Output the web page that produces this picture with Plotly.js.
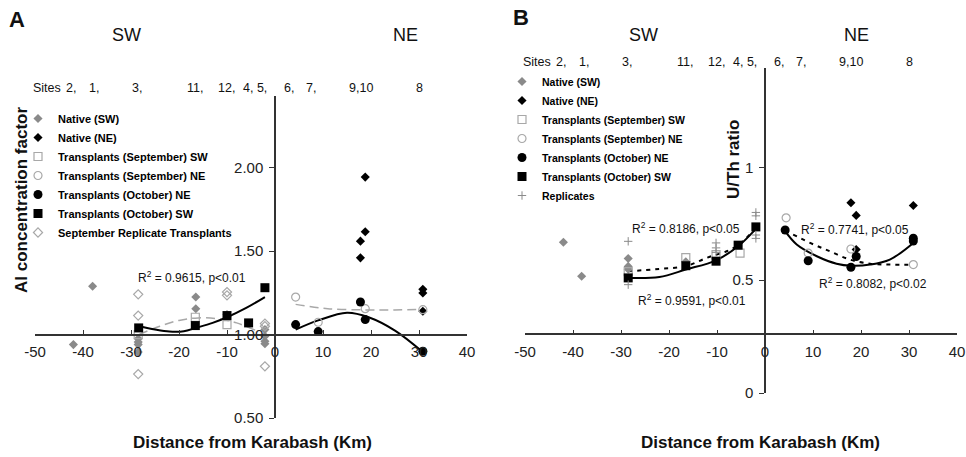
<!DOCTYPE html>
<html><head><meta charset="utf-8">
<script src="https://cdn.plot.ly/plotly-3.0.1.min.js"></script>
<style>body{margin:0;background:#fff}#c{width:966px;height:457px}</style>
</head><body><div id="c"></div>
<script>
// ---------- Panel A: Al concentration factor ----------
const aNativeSW_x = [-42.0, -38.0, -28.5, -28.5, -28.5, -28.5, -16.5, -16.5, -10.0, -2.1, -2.1, -2.1, -2.1];
const aNativeSW_y = [0.94, 1.29, 0.975, 0.955, 0.94, 0.895, 1.225, 1.155, 1.12, 1.03, 0.99, 0.96, 0.945];
const aNativeNE_x = [17.8, 17.8, 18.8, 18.8, 30.8, 30.8, 30.8];
const aNativeNE_y = [1.46, 1.56, 1.616, 1.944, 1.271, 1.249, 1.14];
const aSepSW_x = [-28.5, -16.6, -10.0];
const aSepSW_y = [1.00, 1.104, 1.06];
const aSepNE_x = [4.3, 9.0, 18.8, 30.8];
const aSepNE_y = [1.225, 1.074, 1.155, 1.149];
const aOctNE_x = [4.3, 9.0, 17.8, 18.8, 30.8];
const aOctNE_y = [1.060, 1.018, 1.195, 1.09, 0.90];
const aOctSW_x = [-28.4, -16.6, -10.0, -5.5, -2.1];
const aOctSW_y = [1.04, 1.054, 1.114, 1.07, 1.281];
const aRep_x = [-28.5, -28.5, -28.5, -10.0, -10.0, -2.1, -2.1, -2.1];
const aRep_y = [1.241, 1.114, 0.763, 1.255, 1.235, 1.066, 1.05, 0.81];
// trend lines
const aFitSW_x = [-28.4, -25, -22, -19, -16.5, -13, -10, -6, -2.1];
const aFitSW_y = [1.05, 1.03, 1.018, 1.02, 1.04, 1.07, 1.104, 1.16, 1.225];
const aFitSepSW_x = [-28.4, -24, -20, -16, -12, -8, -4];
const aFitSepSW_y = [1.00, 1.05, 1.085, 1.10, 1.095, 1.07, 1.025];
const aFitNE_x = [4.3, 9.0, 15.0, 19.5, 25.0, 30.8];
const aFitNE_y = [1.03, 1.085, 1.131, 1.104, 1.024, 0.895];
const aFitSepNE_x = [4.3, 11.0, 19.0, 25.0, 30.8];
const aFitSepNE_y = [1.181, 1.155, 1.148, 1.148, 1.151];

// ---------- Panel B: U/Th ratio ----------
const bNativeSW_x = [-42.0, -38.2, -28.5, -28.5, -28.5, -16.5];
const bNativeSW_y = [0.668, 0.517, 0.596, 0.561, 0.548, 0.581];
const bNativeNE_x = [17.9, 19.0, 19.0, 30.9];
const bNativeNE_y = [0.843, 0.787, 0.636, 0.831];
const bSepSW_x = [-28.5, -16.5, -10.2, -5.2];
const bSepSW_y = [0.538, 0.600, 0.613, 0.620];
const bSepNE_x = [4.4, 9.0, 17.9, 30.9];
const bSepNE_y = [0.776, 0.62, 0.638, 0.569];
const bOctNE_x = [4.2, 9.0, 17.9, 19.0, 30.9, 30.9];
const bOctNE_y = [0.722, 0.586, 0.557, 0.605, 0.686, 0.673];
const bOctSW_x = [-28.5, -16.5, -10.2, -5.6, -1.9];
const bOctSW_y = [0.51, 0.564, 0.584, 0.655, 0.736];
const bRep_x = [-28.5, -28.5, -10.2, -10.2, -10.2, -1.9, -1.9, -1.9, -1.9];
const bRep_y = [0.672, 0.48, 0.665, 0.643, 0.623, 0.80, 0.785, 0.70, 0.685];
const bFitSepSW_x = [-28.5, -22, -16.5, -12, -8, -5.6, -1.9];
const bFitSepSW_y = [0.539, 0.55, 0.562, 0.60, 0.628, 0.655, 0.73];
const bFitOctSW_x = [-28.5, -22, -16.5, -10.2, -5.6, -1.9];
const bFitOctSW_y = [0.51, 0.514, 0.547, 0.588, 0.65, 0.727];
const bFitSepNE_x = [4.2, 9.4, 13.5, 17.7, 21.9, 26, 30.9];
const bFitSepNE_y = [0.72, 0.665, 0.628, 0.591, 0.573, 0.569, 0.569];
const bFitOctNE_x = [4.2, 6.6, 10.8, 14.9, 18, 21.9, 26, 30.9];
const bFitOctNE_y = [0.717, 0.658, 0.606, 0.573, 0.564, 0.569, 0.591, 0.665];

// ---------- labels ----------
const siteLabels = ["Sites", "2,", "1,", "3,", "11,", "12,", "4, 5,", "6,", "7,", "9,10", "8"];
const siteKm = [-47.5, -42.5, -37.7, -28.8, -16.6, -10.2, -4.1, 2.9, 7.5, 18.0, 30.0];
const xTickVals = [-50, -40, -30, -20, -10, 0, 10, 20, 30, 40];
const xTickText = ["-50", "-40", "-30", "-20", "-10", "0", "10", "20", "30", "40"];
const aYTickVals = [0.5, 1.0, 1.5, 2.0];
const aYTickText = ["0.50", "1.00", "1.50", "2.00"];
const bYTickVals = [0, 0.5, 1];
const bYTickText = ["0", "0.5", "1"];
const aLegendNames = ["Native (SW)", "Native (NE)", "Transplants (September) SW", "Transplants (September) NE",
  "Transplants (October) NE", "Transplants (October) SW", "September Replicate Transplants"];
const bLegendNames = ["Native (SW)", "Native (NE)", "Transplants (September) SW", "Transplants (September) NE",
  "Transplants (October) NE", "Transplants (October) SW", "Replicates"];

// ---------- geometry ----------
const W = 966, H = 457;
const PX = v => v / W, PY = v => 1 - v / H;
const xA = [PX(35), PX(467)], yA = [PY(418), PY(96)];
const xB = [PX(525), PX(957)], yB = [PY(393), PY(68)];
const xRange = [-50, 40], aYRange = [0.5, 2.43], bYRange = [0, 1.44];
const aCross = 1.0, bCross = 0.26;
const frac = (v, r, d) => d[0] + (v - r[0]) / (r[1] - r[0]) * (d[1] - d[0]);

const GRAY = '#8a8a8a', LGRAY = '#a8a8a8';
const styles = [
  {symbol: 'diamond', size: 7, color: GRAY},
  {symbol: 'diamond', size: 7, color: '#000'},
  {symbol: 'square-open', size: 8, color: LGRAY, line: {color: LGRAY, width: 1.2}},
  {symbol: 'circle-open', size: 8, color: LGRAY, line: {color: LGRAY, width: 1.2}},
  {symbol: 'circle', size: 9, color: '#000'},
  {symbol: 'square', size: 9, color: '#000'},
];
const repA = {symbol: 'diamond-open', size: 7, color: LGRAY, line: {color: LGRAY, width: 1.2}};
const repB = {symbol: 'cross-thin-open', size: 6, color: GRAY, line: {color: GRAY, width: 1}};

function pts(x, y, name, marker, ax, leg) {
  return {type: 'scatter', mode: 'markers', x, y, name, marker, xaxis: ax[0], yaxis: ax[1],
    legend: leg, cliponaxis: false, hoverinfo: 'x+y'};
}
function fit(x, y, line, ax) {
  return {type: 'scatter', mode: 'lines', x, y, line: Object.assign({shape: 'spline', smoothing: 1}, line),
    xaxis: ax[0], yaxis: ax[1], showlegend: false, hoverinfo: 'skip'};
}
const axA = ['x', 'y'], axB = ['x2', 'y2'];
const solid = {color: '#000', width: 2};
const grayDash = {color: LGRAY, width: 1.5, dash: '9px,5px'};
const blackDot = {color: '#000', width: 2, dash: '4px,5px'};

const data = [
  fit(aFitSepSW_x, aFitSepSW_y, grayDash, axA),
  fit(aFitSepNE_x, aFitSepNE_y, grayDash, axA),
  fit(aFitSW_x, aFitSW_y, solid, axA),
  fit(aFitNE_x, aFitNE_y, solid, axA),
  pts(aNativeSW_x, aNativeSW_y, aLegendNames[0], styles[0], axA, 'legend'),
  pts(aNativeNE_x, aNativeNE_y, aLegendNames[1], styles[1], axA, 'legend'),
  pts(aSepSW_x, aSepSW_y, aLegendNames[2], styles[2], axA, 'legend'),
  pts(aSepNE_x, aSepNE_y, aLegendNames[3], styles[3], axA, 'legend'),
  pts(aOctNE_x, aOctNE_y, aLegendNames[4], styles[4], axA, 'legend'),
  pts(aOctSW_x, aOctSW_y, aLegendNames[5], styles[5], axA, 'legend'),
  pts(aRep_x, aRep_y, aLegendNames[6], repA, axA, 'legend'),

  fit(bFitSepSW_x, bFitSepSW_y, blackDot, axB),
  fit(bFitSepNE_x, bFitSepNE_y, blackDot, axB),
  fit(bFitOctSW_x, bFitOctSW_y, solid, axB),
  fit(bFitOctNE_x, bFitOctNE_y, solid, axB),
  pts(bNativeSW_x, bNativeSW_y, bLegendNames[0], styles[0], axB, 'legend2'),
  pts(bNativeNE_x, bNativeNE_y, bLegendNames[1], styles[1], axB, 'legend2'),
  pts(bSepSW_x, bSepSW_y, bLegendNames[2], styles[2], axB, 'legend2'),
  pts(bSepNE_x, bSepNE_y, bLegendNames[3], styles[3], axB, 'legend2'),
  pts(bOctNE_x, bOctNE_y, bLegendNames[4], styles[4], axB, 'legend2'),
  pts(bOctSW_x, bOctSW_y, bLegendNames[5], styles[5], axB, 'legend2'),
  pts(bRep_x, bRep_y, bLegendNames[6], repB, axB, 'legend2'),
];

const FONT = 'Arial, "Liberation Sans", sans-serif';
const tickFont = {family: FONT, size: 15, color: '#222'};
function xAxis(dom, yDom, yRange, cross) {
  return {domain: dom, range: xRange, anchor: 'free', position: frac(cross, yRange, yDom),
    tickmode: 'array', tickvals: xTickVals, ticktext: xTickText, ticks: 'inside', ticklen: 4,
    tickcolor: '#333', showline: true, linecolor: '#333', linewidth: 1.5, showgrid: false,
    zeroline: false, tickfont: tickFont, ticklabelstandoff: 4, fixedrange: true};
}
function yAxis(dom, xDom, range, tv, tt) {
  return {domain: dom, range, anchor: 'free', position: frac(0, xRange, xDom),
    tickmode: 'array', tickvals: tv, ticktext: tt, ticks: 'outside', ticklen: 5,
    tickcolor: '#333', showline: true, linecolor: '#333', linewidth: 1.5, showgrid: false,
    zeroline: false, tickfont: tickFont, ticklabelstandoff: 3, fixedrange: true};
}

function txt(text, x, y, size, bold, extra) {
  return Object.assign({text, x: PX(x), y: PY(y), xref: 'paper', yref: 'paper', showarrow: false,
    xanchor: 'center', yanchor: 'middle',
    font: {family: FONT, size, color: '#111', weight: bold ? 'bold' : 'normal'}}, extra || {});
}
const annotations = [
  txt('A', 17, 19, 22, true), txt('B', 521, 18, 22, true),
  txt('SW', 127, 35, 18, false), txt('NE', 405, 35, 18, false),
  txt('SW', 643, 35, 18, false), txt('NE', 856, 35, 18, false),
  txt('Al concentration factor', 21, 200, 17, true, {textangle: -90}),
  txt('U/Th ratio', 733, 160, 17, true, {textangle: -90}),
  txt('Distance from Karabash (Km)', 252, 442, 17, true),
  txt('Distance from Karabash (Km)', 760, 442, 17, true),
  txt('R<sup>2</sup> = 0.9615, p&lt;0.01', 192, 277, 12, false),
  txt('R<sup>2</sup> = 0.8186, p&lt;0.05', 686, 228, 12, false),
  txt('R<sup>2</sup> = 0.9591, p&lt;0.01', 692, 300, 12, false),
  txt('R<sup>2</sup> = 0.7741, p&lt;0.05', 855, 229, 12, false),
  txt('R<sup>2</sup> = 0.8082, p&lt;0.02', 873, 283, 12, false),
];
siteLabels.forEach((s, i) => {
  annotations.push({text: s, x: siteKm[i], xref: 'x', y: PY(88), yref: 'paper', showarrow: false,
    xanchor: 'center', yanchor: 'middle', font: {family: FONT, size: 12.5, color: '#111'}});
  annotations.push({text: s, x: siteKm[i], xref: 'x2', y: PY(62), yref: 'paper', showarrow: false,
    xanchor: 'center', yanchor: 'middle', font: {family: FONT, size: 12.5, color: '#111'}});
});

const legendBase = {xanchor: 'left', yanchor: 'top', bgcolor: 'rgba(0,0,0,0)', borderwidth: 0,
  tracegroupgap: 0, itemclick: false, itemdoubleclick: false};
const layout = {
  width: W, height: H, margin: {l: 0, r: 0, t: 0, b: 0}, paper_bgcolor: '#fff', plot_bgcolor: 'rgba(0,0,0,0)',
  showlegend: true, hovermode: 'closest',
  xaxis: xAxis(xA, yA, aYRange, aCross), yaxis: yAxis(yA, xA, aYRange, aYTickVals, aYTickText),
  xaxis2: xAxis(xB, yB, bYRange, bCross), yaxis2: yAxis(yB, xB, bYRange, bYTickVals, bYTickText),
  legend: Object.assign({x: PX(18), y: PY(104), font: {family: FONT, size: 11, color: '#000', weight: 'bold'}}, legendBase),
  legend2: Object.assign({x: PX(502), y: PY(67), font: {family: FONT, size: 10.5, color: '#000', weight: 'bold'}}, legendBase),
  annotations,
};
Plotly.newPlot('c', data, layout, {displayModeBar: false, staticPlot: false});
</script>
</body></html>
